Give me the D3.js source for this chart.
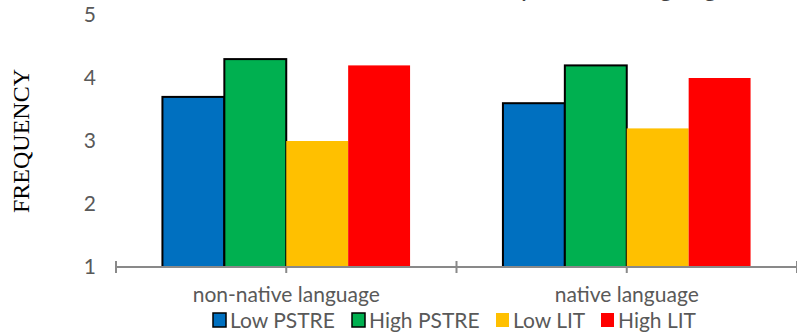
<!DOCTYPE html>
<html>
<head>
<meta charset="utf-8">
<script src="https://cdn.jsdelivr.net/npm/d3@7"></script>
<style>
  html, body { margin: 0; padding: 0; background: #fff; }
  svg { display: block; }
</style>
</head>
<body>
<svg id="chart" width="797" height="335"></svg>
<script>
const categories = ["non-native language", "native language"];
const seriesNames = ["Low PSTRE", "High PSTRE", "Low LIT", "High LIT"];
const seriesColors = ["#0070C0", "#00B050", "#FFC000", "#FF0000"];
const seriesBorder = [true, true, false, false];
const lowPSTRE = [3.7, 3.6];
const highPSTRE = [4.3, 4.2];
const lowLIT = [3.0, 3.2];
const highLIT = [4.2, 4.0];
const yTicks = [1, 2, 3, 4, 5];
const titleText = "Mean LIT and PSTRE scores by native language";

const seriesValues = [lowPSTRE, highPSTRE, lowLIT, highLIT];

const svg = d3.select("#chart");
const textColor = "#595959";
const axisColor = "#898989";
const sansFont = "Lato, 'Open Sans', sans-serif";

const x = d3.scaleBand().domain(categories).range([116, 797]).paddingInner(0).paddingOuter(0);
const xs = d3.scaleBand().domain(seriesNames).range([0, x.bandwidth()]).paddingInner(0).paddingOuter(0.75);
const y = d3.scaleLinear().domain([1, 5]).range([267, 15]);

// title (cut off at top, as in the reference)
svg.append("text")
  .attr("x", 732).attr("y", -4)
  .attr("text-anchor", "end")
  .attr("font-family", sansFont)
  .attr("font-size", 28)
  .attr("fill", "#404040")
  .text(titleText);

// y tick labels
svg.append("g").selectAll("text").data(yTicks).join("text")
  .attr("x", 96).attr("y", d => y(d))
  .attr("dy", "0.35em")
  .attr("text-anchor", "end")
  .attr("font-family", sansFont)
  .attr("font-size", 21)
  .attr("fill", textColor)
  .text(d => d);

// y title
svg.append("text")
  .attr("transform", `translate(29, ${y(3)}) rotate(-90)`)
  .attr("text-anchor", "middle")
  .attr("font-family", "'Liberation Serif', 'Times New Roman', serif")
  .attr("font-size", 24)
  .attr("fill", "#000")
  .text("FREQUENCY");

// bars
const groups = svg.append("g").selectAll("g").data(categories).join("g")
  .attr("transform", d => `translate(${x(d)},0)`);
groups.each(function(cat, ci) {
  const g = d3.select(this);
  seriesNames.forEach((s, si) => {
    const v = seriesValues[si][ci];
    g.append("rect")
      .attr("x", xs(s))
      .attr("y", y(v))
      .attr("width", xs.bandwidth())
      .attr("height", y(1) - y(v))
      .attr("fill", seriesColors[si])
      .attr("stroke", seriesBorder[si] ? "#000" : "none")
      .attr("stroke-width", 2);
  });
});

// x axis line
const axisG = svg.append("g");
axisG.append("line")
  .attr("x1", 116).attr("x2", 797)
  .attr("y1", y(1)).attr("y2", y(1))
  .attr("stroke", axisColor).attr("stroke-width", 2);
// boundary ticks
const boundaries = categories.map(c => x(c)).concat([x(categories[categories.length - 1]) + x.bandwidth()]);
axisG.selectAll("line.b").data(boundaries).join("line")
  .attr("class", "b")
  .attr("x1", d => d).attr("x2", d => d)
  .attr("y1", y(1) - 6).attr("y2", y(1) + 6)
  .attr("stroke", axisColor).attr("stroke-width", 2);
// center ticks
axisG.selectAll("line.c").data(categories).join("line")
  .attr("class", "c")
  .attr("x1", d => x(d) + x.bandwidth() / 2).attr("x2", d => x(d) + x.bandwidth() / 2)
  .attr("y1", y(1)).attr("y2", y(1) + 6)
  .attr("stroke", axisColor).attr("stroke-width", 2);

// category labels
svg.append("g").selectAll("text").data(categories).join("text")
  .attr("x", d => x(d) + x.bandwidth() / 2)
  .attr("y", 302)
  .attr("text-anchor", "middle")
  .attr("font-family", sansFont)
  .attr("font-size", 21)
  .attr("fill", textColor)
  .text(d => d);

// legend
const legendX = [213, 352, 496, 601];
const leg = svg.append("g");
seriesNames.forEach((s, i) => {
  leg.append("rect")
    .attr("x", legendX[i]).attr("y", 313)
    .attr("width", 13).attr("height", 14)
    .attr("fill", seriesColors[i])
    .attr("stroke", seriesBorder[i] ? "#000" : "none")
    .attr("stroke-width", 1.5);
  leg.append("text")
    .attr("x", legendX[i] + 17).attr("y", 328)
    .attr("font-family", sansFont)
    .attr("font-size", 21)
    .attr("fill", textColor)
    .text(s);
});
</script>
</body>
</html>
